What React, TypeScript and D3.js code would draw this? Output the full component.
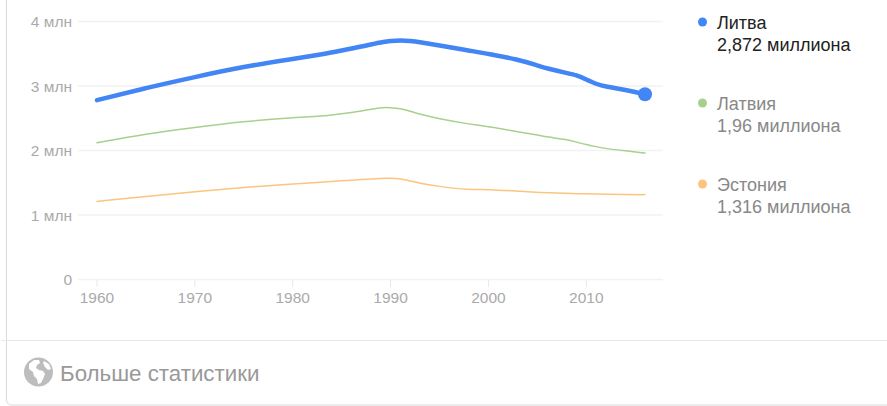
import * as d3 from "d3";

const years = [1960, 1965, 1970, 1975, 1980, 1983, 1985, 1987, 1989, 1990, 1991, 1992, 1993, 1995, 1998, 2000, 2003, 2005, 2006, 2008, 2009, 2010, 2011, 2012, 2014, 2016];
const lithuania = [2.78, 2.97, 3.14, 3.3, 3.42, 3.49, 3.55, 3.61, 3.68, 3.7, 3.71, 3.7, 3.68, 3.63, 3.55, 3.5, 3.41, 3.32, 3.27, 3.2, 3.17, 3.1, 3.03, 2.99, 2.94, 2.872];
const latvia = [2.12, 2.26, 2.36, 2.45, 2.51, 2.53, 2.57, 2.61, 2.67, 2.665, 2.65, 2.61, 2.56, 2.49, 2.41, 2.37, 2.29, 2.24, 2.21, 2.17, 2.13, 2.09, 2.06, 2.03, 1.995, 1.96];
const estonia = [1.21, 1.29, 1.36, 1.43, 1.48, 1.51, 1.53, 1.55, 1.57, 1.57, 1.56, 1.53, 1.49, 1.44, 1.39, 1.4, 1.37, 1.35, 1.345, 1.335, 1.33, 1.33, 1.325, 1.32, 1.315, 1.316];

const yTicks = [0, 1, 2, 3, 4];
const yTickLabels = ["0", "1 млн", "2 млн", "3 млн", "4 млн"];
const xTicks = [1960, 1970, 1980, 1990, 2000, 2010];

const seriesNames = ["Литва", "Латвия", "Эстония"];
const seriesValues = [lithuania, latvia, estonia];
const seriesLabels = ["2,872 миллиона", "1,96 миллиона", "1,316 миллиона"];
const seriesColors = ["#4285f4", "#a8d08d", "#fbc580"];

const FONT = "'Liberation Sans', Arial, sans-serif";

export default function App() {
  const x = d3.scaleLinear().domain([1960, 2016]).range([97, 645]);
  const y = d3.scaleLinear().domain([0, 4]).range([279.5, 21.5]);

  const line = d3
    .line<number>()
    .x((_d, i) => x(years[i]))
    .y((d) => y(d))
    .curve(d3.curveBasis);

  const legendY = d3.scalePoint<string>().domain(seriesNames).range([22, 184]);

  return (
    <svg
      width={887}
      height={406}
      style={{ position: "absolute", left: 0, top: 0, fontFamily: FONT }}
    >
      <rect width={887} height={406} fill="#fff" />

      {/* card border */}
      <path d="M6.5 0V400a5 5 0 0 0 5 5H887" fill="none" stroke="#d9d9d9" />
      <line x1={2} x2={887} y1={340.5} y2={340.5} stroke="#e8e8e8" />

      {yTicks.map((t, i) => (
        <g key={t}>
          <line x1={78} x2={663} y1={y(t)} y2={y(t)} stroke="#f2f2f2" strokeWidth={1.5} />
          <text x={72} y={y(t) + 5.5} textAnchor="end" fontSize={15.5} fill="#aaa">
            {yTickLabels[i]}
          </text>
        </g>
      ))}

      {xTicks.map((t) => (
        <g key={t}>
          <line x1={x(t)} x2={x(t)} y1={280} y2={287} stroke="#e8e8e8" />
          <text x={x(t)} y={303} textAnchor="middle" fontSize={15.5} fill="#aaa">
            {t}
          </text>
        </g>
      ))}

      {[2, 1, 0].map((i) => (
        <path
          key={seriesNames[i]}
          d={line(seriesValues[i]) ?? ""}
          fill="none"
          stroke={seriesColors[i]}
          strokeWidth={i === 0 ? 4.5 : 1.5}
          strokeLinecap="round"
          strokeLinejoin="round"
        />
      ))}
      <circle cx={x(2016)} cy={y(lithuania[lithuania.length - 1])} r={7} fill={seriesColors[0]} />

      {seriesNames.map((name, i) => {
        const ly = legendY(name) ?? 0;
        const textColor = i === 0 ? "#222" : "#888";
        return (
          <g key={name}>
            <circle cx={702.5} cy={ly} r={4.5} fill={seriesColors[i]} />
            <text x={717} y={ly + 7} fontSize={18} fill={textColor}>
              {name}
            </text>
            <text x={717} y={ly + 29} fontSize={18} fill={textColor}>
              {seriesLabels[i]}
            </text>
          </g>
        );
      })}

      {/* globe icon */}
      <circle cx={38.5} cy={372} r={14.5} fill="#bdbdbd" />
      <path d="M29 364l5-4 5 0 1 3-3 2-1 3 3 2 4 1 2 3-2 5-2 4-3 1-1-5-3-3-1-4-4-3z" fill="#fff" />
      <path d="M44 361l5 3 2 5-3 1-3-3-2-4z" fill="#fff" />
      <text x={60} y={381} fontSize={22.3} fill="#999">
        Больше статистики
      </text>
    </svg>
  );
}
